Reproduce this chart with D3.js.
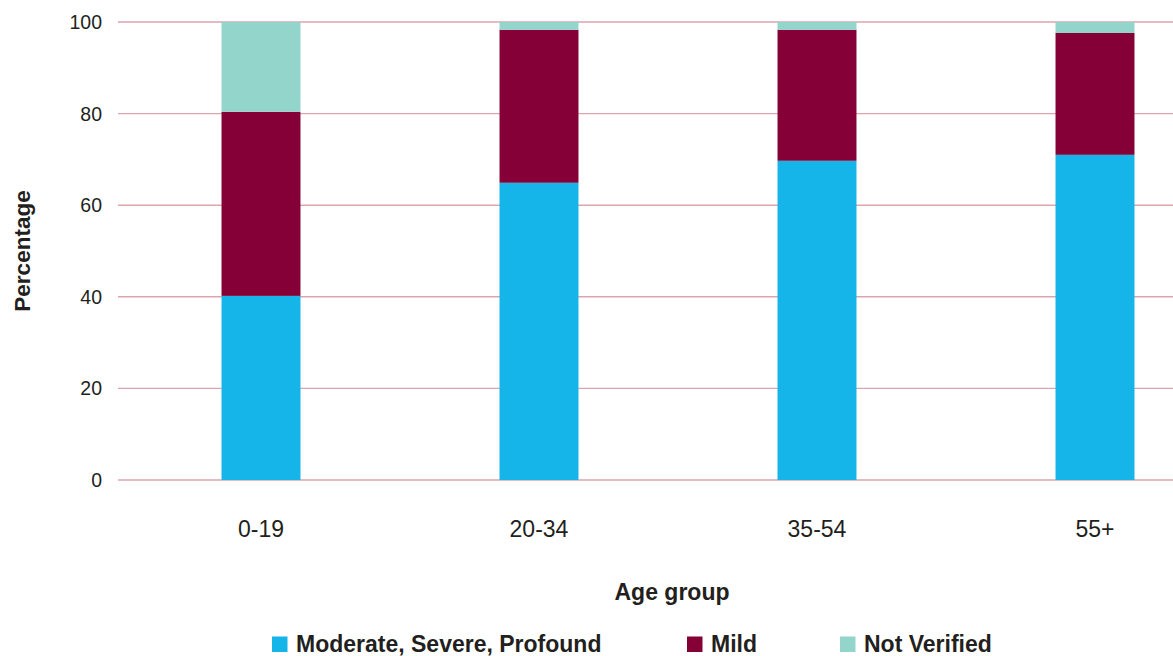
<!DOCTYPE html>
<html>
<head>
<meta charset="utf-8">
<script src="https://cdn.jsdelivr.net/npm/d3@7"></script>
<style>
  html, body { margin: 0; padding: 0; background: #fff; }
  svg { display: block; font-family: "Liberation Sans", Arial, Helvetica, sans-serif; }
</style>
</head>
<body>
<svg id="chart" width="1173" height="656"></svg>
<script>
// Age groups and share of each hearing-loss category (percent)
const ageGroups = ["0-19", "20-34", "35-54", "55+"];
const seriesNames = ["Moderate, Severe, Profound", "Mild", "Not Verified"];
const moderateSevereProfound = [40.2, 64.9, 69.7, 71.0];
const mild = [40.2, 33.4, 28.6, 26.6];
const notVerified = [19.6, 1.7, 1.7, 2.4];
const yTicks = [0, 20, 40, 60, 80, 100];

const colors = ["#15b5e9", "#850037", "#93d4cb"];
const textColor = "#231f20";

const svg = d3.select("#chart");
const plotLeft = 118, plotRight = 1173, plotTop = 22, plotBottom = 480;

const rows = ageGroups.map((g, i) => ({
  group: g,
  [seriesNames[0]]: moderateSevereProfound[i],
  [seriesNames[1]]: mild[i],
  [seriesNames[2]]: notVerified[i]
}));
const stacked = d3.stack().keys(seriesNames)(rows);

const x = d3.scaleBand()
  .domain(ageGroups)
  .range([122, 1234])
  .paddingInner(0.716)
  .paddingOuter(0.358);

const y = d3.scaleLinear().domain([0, 100]).range([plotBottom, plotTop]);

// Horizontal gridlines
svg.append("g")
  .selectAll("line")
  .data(yTicks)
  .join("line")
  .attr("x1", plotLeft)
  .attr("x2", plotRight)
  .attr("y1", d => y(d))
  .attr("y2", d => y(d))
  .attr("stroke", "#dba5ae")
  .attr("stroke-width", 1.4);

// Y tick labels
svg.append("g")
  .selectAll("text")
  .data(yTicks)
  .join("text")
  .attr("x", 102)
  .attr("y", d => y(d))
  .attr("dy", "0.36em")
  .attr("text-anchor", "end")
  .attr("font-size", 19.5)
  .attr("fill", textColor)
  .text(d => d);

// Stacked bars
svg.append("g")
  .selectAll("g")
  .data(stacked)
  .join("g")
  .attr("fill", (d, i) => colors[i])
  .selectAll("rect")
  .data(d => d)
  .join("rect")
  .attr("x", d => x(d.data.group))
  .attr("width", x.bandwidth())
  .attr("y", d => y(d[1]))
  .attr("height", d => y(d[0]) - y(d[1]));

// Category labels
svg.append("g")
  .selectAll("text")
  .data(ageGroups)
  .join("text")
  .attr("x", d => x(d) + x.bandwidth() / 2)
  .attr("y", 537)
  .attr("text-anchor", "middle")
  .attr("font-size", 23)
  .attr("fill", textColor)
  .text(d => d);

// Axis titles
svg.append("text")
  .attr("x", 672)
  .attr("y", 600)
  .attr("text-anchor", "middle")
  .attr("font-size", 23)
  .attr("font-weight", "bold")
  .attr("fill", textColor)
  .text("Age group");

svg.append("text")
  .attr("transform", "translate(30,251) rotate(-90)")
  .attr("text-anchor", "middle")
  .attr("font-size", 22.5)
  .attr("font-weight", "bold")
  .attr("fill", textColor)
  .text("Percentage");

// Legend
const legendX = [272, 687, 840];
const legend = svg.append("g")
  .selectAll("g")
  .data(seriesNames)
  .join("g")
  .attr("transform", (d, i) => `translate(${legendX[i]},636.5)`);
legend.append("rect")
  .attr("width", 15.5)
  .attr("height", 15.5)
  .attr("fill", (d, i) => colors[i]);
legend.append("text")
  .attr("x", 24)
  .attr("y", 15)
  .attr("font-size", 23)
  .attr("font-weight", "bold")
  .attr("fill", textColor)
  .text(d => d);
</script>
</body>
</html>
